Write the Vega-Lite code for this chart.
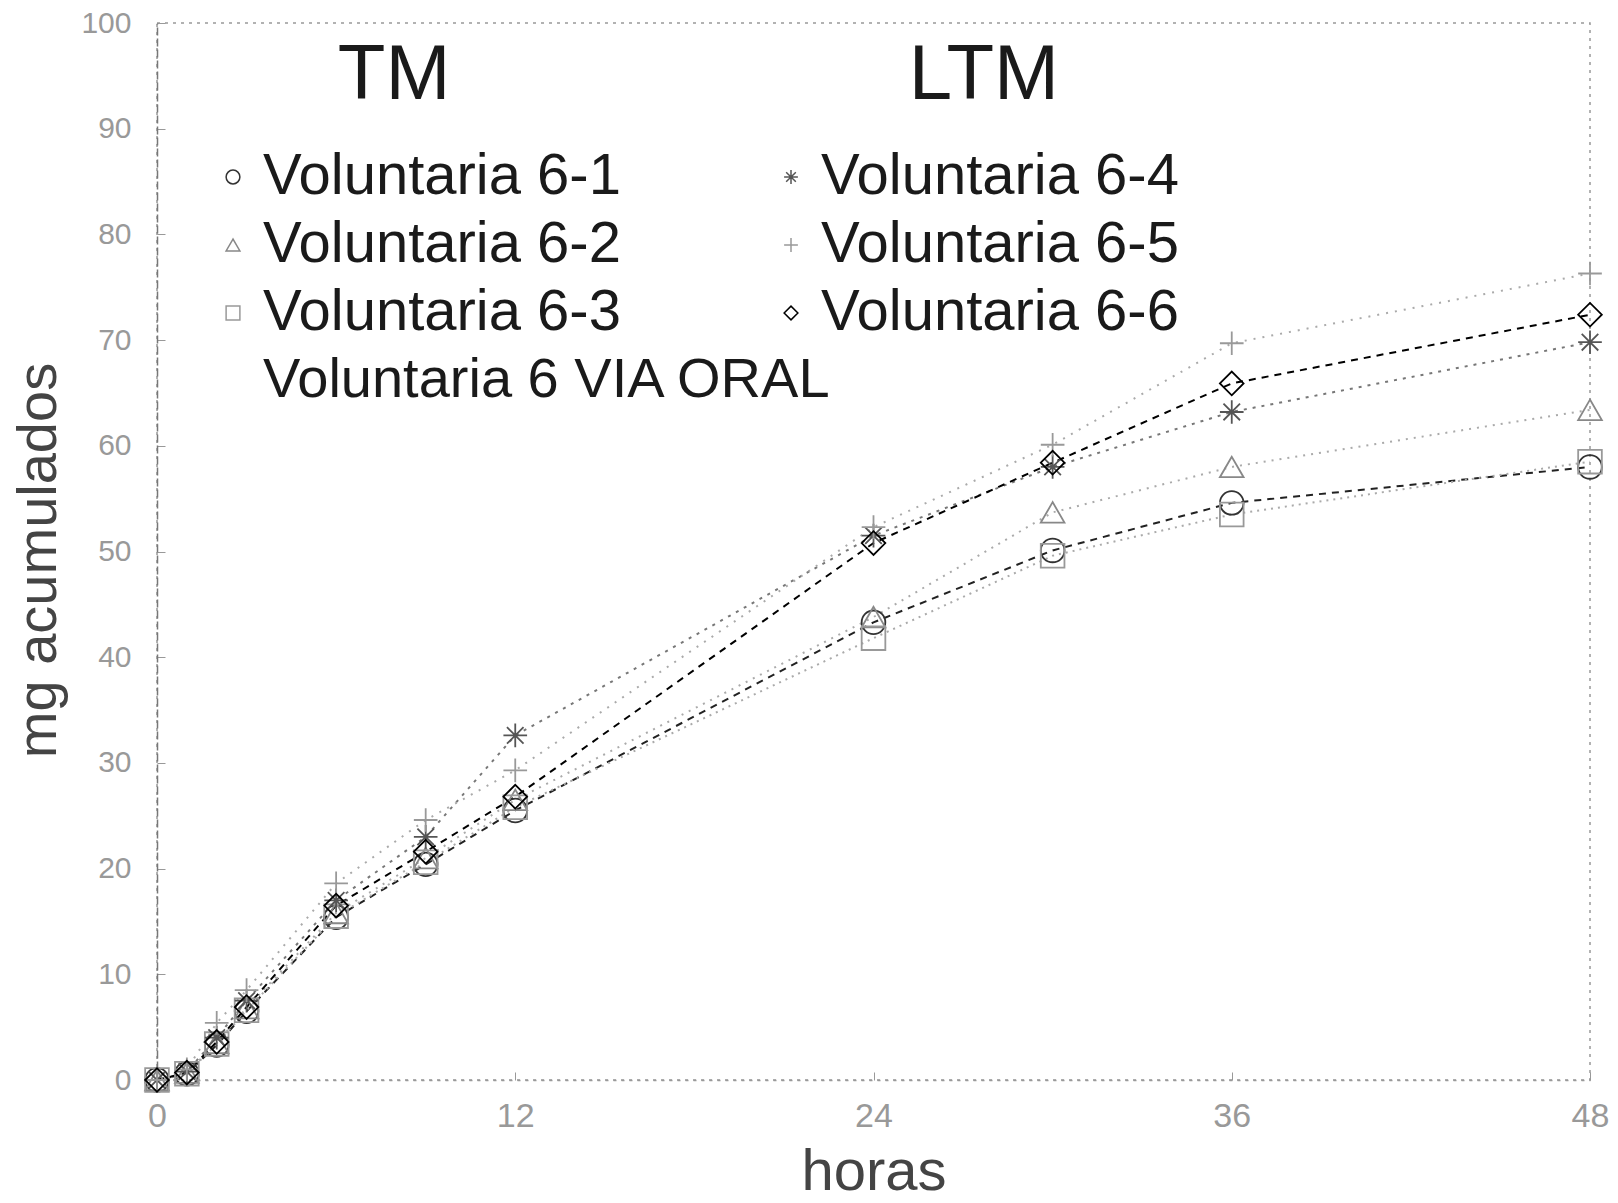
{
  "$schema": "https://vega.github.io/schema/vega-lite/v6.json",
  "autosize": {"type": "none"},
  "padding": {"left": 157, "top": 23, "right": 28, "bottom": 123},
  "width": 1433,
  "height": 1057,
  "background": "white",
  "config": {
    "view": {"stroke": "#999", "strokeDash": [3, 5], "strokeWidth": 1.5},
    "axis": {"grid": false, "labelFlush": false}
  },
  "data": {
    "values": [
      {"serie": "Voluntaria 6-1", "horas": 0, "mg": 0},
      {"serie": "Voluntaria 6-1", "horas": 1, "mg": 0.6},
      {"serie": "Voluntaria 6-1", "horas": 2, "mg": 3.3},
      {"serie": "Voluntaria 6-1", "horas": 3, "mg": 6.5},
      {"serie": "Voluntaria 6-1", "horas": 6, "mg": 15.4},
      {"serie": "Voluntaria 6-1", "horas": 9, "mg": 20.4},
      {"serie": "Voluntaria 6-1", "horas": 12, "mg": 25.5},
      {"serie": "Voluntaria 6-1", "horas": 24, "mg": 43.3},
      {"serie": "Voluntaria 6-1", "horas": 30, "mg": 50.1},
      {"serie": "Voluntaria 6-1", "horas": 36, "mg": 54.6},
      {"serie": "Voluntaria 6-1", "horas": 48, "mg": 58.0},
      {"serie": "Voluntaria 6-2", "horas": 0, "mg": 0},
      {"serie": "Voluntaria 6-2", "horas": 1, "mg": 0.7},
      {"serie": "Voluntaria 6-2", "horas": 2, "mg": 3.5},
      {"serie": "Voluntaria 6-2", "horas": 3, "mg": 6.8},
      {"serie": "Voluntaria 6-2", "horas": 6, "mg": 15.8},
      {"serie": "Voluntaria 6-2", "horas": 9, "mg": 21.0},
      {"serie": "Voluntaria 6-2", "horas": 12, "mg": 26.5},
      {"serie": "Voluntaria 6-2", "horas": 24, "mg": 43.8},
      {"serie": "Voluntaria 6-2", "horas": 30, "mg": 53.7},
      {"serie": "Voluntaria 6-2", "horas": 36, "mg": 58.0},
      {"serie": "Voluntaria 6-2", "horas": 48, "mg": 63.4},
      {"serie": "Voluntaria 6-3", "horas": 0, "mg": 0},
      {"serie": "Voluntaria 6-3", "horas": 1, "mg": 0.6},
      {"serie": "Voluntaria 6-3", "horas": 2, "mg": 3.4},
      {"serie": "Voluntaria 6-3", "horas": 3, "mg": 6.6},
      {"serie": "Voluntaria 6-3", "horas": 6, "mg": 15.5},
      {"serie": "Voluntaria 6-3", "horas": 9, "mg": 20.6},
      {"serie": "Voluntaria 6-3", "horas": 12, "mg": 25.8},
      {"serie": "Voluntaria 6-3", "horas": 24, "mg": 41.8},
      {"serie": "Voluntaria 6-3", "horas": 30, "mg": 49.6},
      {"serie": "Voluntaria 6-3", "horas": 36, "mg": 53.5},
      {"serie": "Voluntaria 6-3", "horas": 48, "mg": 58.5},
      {"serie": "Voluntaria 6-4", "horas": 0, "mg": 0},
      {"serie": "Voluntaria 6-4", "horas": 1, "mg": 0.8},
      {"serie": "Voluntaria 6-4", "horas": 2, "mg": 4.0},
      {"serie": "Voluntaria 6-4", "horas": 3, "mg": 7.5},
      {"serie": "Voluntaria 6-4", "horas": 6, "mg": 17.0},
      {"serie": "Voluntaria 6-4", "horas": 9, "mg": 23.0},
      {"serie": "Voluntaria 6-4", "horas": 12, "mg": 32.6},
      {"serie": "Voluntaria 6-4", "horas": 24, "mg": 51.5},
      {"serie": "Voluntaria 6-4", "horas": 30, "mg": 58.0},
      {"serie": "Voluntaria 6-4", "horas": 36, "mg": 63.2},
      {"serie": "Voluntaria 6-4", "horas": 48, "mg": 69.8},
      {"serie": "Voluntaria 6-5", "horas": 0, "mg": 0},
      {"serie": "Voluntaria 6-5", "horas": 1, "mg": 1.0},
      {"serie": "Voluntaria 6-5", "horas": 2, "mg": 5.4},
      {"serie": "Voluntaria 6-5", "horas": 3, "mg": 8.5},
      {"serie": "Voluntaria 6-5", "horas": 6, "mg": 18.6},
      {"serie": "Voluntaria 6-5", "horas": 9, "mg": 24.6},
      {"serie": "Voluntaria 6-5", "horas": 12, "mg": 29.3},
      {"serie": "Voluntaria 6-5", "horas": 24, "mg": 52.3},
      {"serie": "Voluntaria 6-5", "horas": 30, "mg": 60.1},
      {"serie": "Voluntaria 6-5", "horas": 36, "mg": 69.7},
      {"serie": "Voluntaria 6-5", "horas": 48, "mg": 76.3},
      {"serie": "Voluntaria 6-6", "horas": 0, "mg": 0},
      {"serie": "Voluntaria 6-6", "horas": 1, "mg": 0.7},
      {"serie": "Voluntaria 6-6", "horas": 2, "mg": 3.6},
      {"serie": "Voluntaria 6-6", "horas": 3, "mg": 6.9},
      {"serie": "Voluntaria 6-6", "horas": 6, "mg": 16.5},
      {"serie": "Voluntaria 6-6", "horas": 9, "mg": 21.6},
      {"serie": "Voluntaria 6-6", "horas": 12, "mg": 26.8},
      {"serie": "Voluntaria 6-6", "horas": 24, "mg": 50.8},
      {"serie": "Voluntaria 6-6", "horas": 30, "mg": 58.4},
      {"serie": "Voluntaria 6-6", "horas": 36, "mg": 65.9},
      {"serie": "Voluntaria 6-6", "horas": 48, "mg": 72.4}
    ]
  },
  "encoding": {
    "x": {
      "field": "horas", "type": "quantitative",
      "scale": {"domain": [0, 48], "nice": false, "zero": false},
      "axis": {
        "values": [0, 12, 24, 36, 48],
        "title": "horas",
        "titleFont": "Liberation Sans",
        "titleFontSize": 58,
        "titleFontWeight": "normal",
        "titleColor": "#444",
        "titleBaseline": "alphabetic",
        "titleY": 109,
        "labelFont": "Liberation Sans",
        "labelFontSize": 34,
        "labelColor": "#999",
        "labelBaseline": "top",
        "labelPadding": 27,
        "tickSize": -8,
        "tickColor": "#999",
        "domainColor": "#999",
        "domainDash": [3, 5],
        "domainWidth": 1.5
      }
    },
    "y": {
      "field": "mg", "type": "quantitative",
      "scale": {"domain": [0, 100], "nice": false},
      "axis": {
        "values": [0, 10, 20, 30, 40, 50, 60, 70, 80, 90, 100],
        "title": "mg acumulados",
        "titleFont": "Liberation Sans",
        "titleFontSize": 56,
        "titleFontWeight": "normal",
        "titleColor": "#444",
        "titleBaseline": "alphabetic",
        "titleX": -102,
        "titleY": 537,
        "labelFont": "Liberation Sans",
        "labelFontSize": 30,
        "labelColor": "#999",
        "labelPadding": 34,
        "tickSize": -8,
        "tickColor": "#999",
        "domainColor": "#777",
        "domainDash": [8, 3],
        "domainWidth": 1.5
      }
    }
  },
  "layer": [
    {
      "mark": {"type": "line", "strokeWidth": 2},
      "encoding": {
        "stroke": {
          "field": "serie", "type": "nominal",
          "scale": {
            "domain": ["Voluntaria 6-1", "Voluntaria 6-2", "Voluntaria 6-3", "Voluntaria 6-4", "Voluntaria 6-5", "Voluntaria 6-6"],
            "range": ["#222222", "#aaaaaa", "#aaaaaa", "#777777", "#aaaaaa", "#000000"]
          },
          "legend": null
        },
        "strokeDash": {
          "field": "serie", "type": "nominal",
          "scale": {
            "domain": ["Voluntaria 6-1", "Voluntaria 6-2", "Voluntaria 6-3", "Voluntaria 6-4", "Voluntaria 6-5", "Voluntaria 6-6"],
            "range": [[7, 6], [2, 6], [2, 5], [3, 6], [2, 7], [7, 6]]
          },
          "legend": null
        }
      }
    },
    {
      "mark": {"type": "point", "filled": false, "strokeWidth": 1.8, "opacity": 1, "size": 560},
      "encoding": {
        "shape": {
          "field": "serie", "type": "nominal",
          "scale": {
            "domain": ["Voluntaria 6-1", "Voluntaria 6-4", "Voluntaria 6-2", "Voluntaria 6-5", "Voluntaria 6-3", "Voluntaria 6-6"],
            "range": ["circle", "M-1,0H1M0,-1V1M-0.7,-0.7L0.7,0.7M-0.7,0.7L0.7,-0.7", "triangle-up", "M-1,0H1M0,-1V1", "square", "M-1,0L0,-1L1,0L0,1Z"]
          },
          "legend": {
            "title": null,
            "orient": "none",
            "legendX": 47,
            "legendY": 125,
            "columns": 2,
            "direction": "horizontal",
            "padding": 0,
            "columnPadding": 141,
            "rowPadding": 10,
            "symbolSize": 190,
            "symbolStrokeWidth": 1.5,
            "labelFont": "Liberation Sans",
            "labelFontSize": 58,
            "labelColor": "#1a1a1a",
            "labelOffset": 1,
            "labelLimit": 1000
          }
        },
        "color": {
          "field": "serie", "type": "nominal",
          "scale": {
            "domain": ["Voluntaria 6-1", "Voluntaria 6-4", "Voluntaria 6-2", "Voluntaria 6-5", "Voluntaria 6-3", "Voluntaria 6-6"],
            "range": ["#333333", "#555555", "#888888", "#999999", "#999999", "#000000"]
          }
        }
      }
    },
    {
      "transform": [{"filter": "datum.serie == 'Voluntaria 6-1' && datum.horas == 0"}],
      "mark": {"type": "text", "font": "Liberation Sans", "fontSize": 78, "align": "center", "baseline": "middle", "fill": "#1a1a1a"},
      "encoding": {
        "x": {"datum": 7.94, "type": "quantitative"},
        "y": {"datum": 95.0, "type": "quantitative"},
        "text": {"value": "TM"}
      }
    },
    {
      "transform": [{"filter": "datum.serie == 'Voluntaria 6-1' && datum.horas == 0"}],
      "mark": {"type": "text", "font": "Liberation Sans", "fontSize": 78, "align": "center", "baseline": "middle", "fill": "#1a1a1a"},
      "encoding": {
        "x": {"datum": 27.7, "type": "quantitative"},
        "y": {"datum": 95.0, "type": "quantitative"},
        "text": {"value": "LTM"}
      }
    },
    {
      "transform": [{"filter": "datum.serie == 'Voluntaria 6-1' && datum.horas == 0"}],
      "mark": {"type": "text", "font": "Liberation Sans", "fontSize": 56, "align": "left", "baseline": "middle", "fill": "#1a1a1a"},
      "encoding": {
        "x": {"datum": 3.55, "type": "quantitative"},
        "y": {"datum": 66.2, "type": "quantitative"},
        "text": {"value": "Voluntaria 6 VIA ORAL"}
      }
    }
  ]
}
